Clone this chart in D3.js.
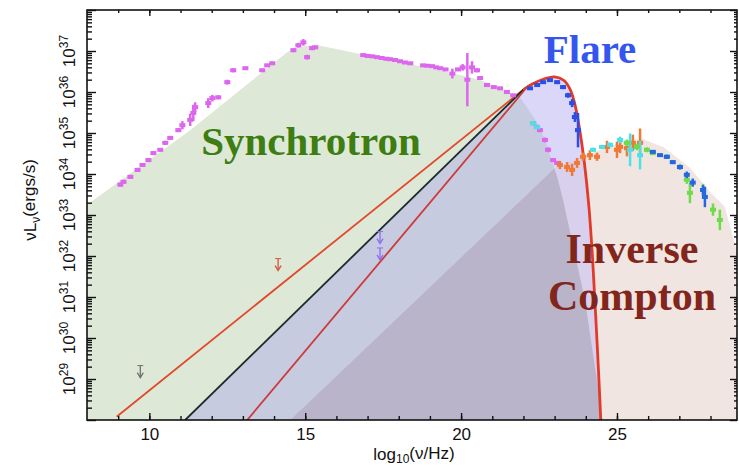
<!DOCTYPE html>
<html><head><meta charset="utf-8">
<script src="https://cdn.jsdelivr.net/npm/d3@7"></script>
<style>body{margin:0;background:#fff;} svg{display:block;}</style>
</head><body>
<svg id="chart" width="739" height="470"></svg>
<script>
// ---------- DATA (log10 nu, log10 nuLnu [, error in dex]) ----------
const xMajorTicks = [10, 15, 20, 25];
const xMinorTicks = [9,10,11,12,13,14,15,16,17,18,19,20,21,22,23,24,25,26,27,28];
const yTickExps = [29, 30, 31, 32, 33, 34, 35, 36, 37];

const synchrotronEnvelope = [[8.0,33.25],[11.31,35.07],[14.42,36.97],[14.7,37.07],[15.0,37.12],[15.4,37.14],[19.33,36.53],[20.61,36.29],[21.89,35.87],[22.4,35.3],[22.69,34.83],[23.08,33.93],[23.27,33.37],[23.97,30.94],[24.55,28.0]];
const inverseComptonEnvelope = [[14.52,28.0],[23.01,34.15],[24.46,34.59],[25.2,34.8],[25.8,34.86],[26.5,34.65],[27.34,34.15],[28.0,33.55],[28.46,33.2],[28.85,32.1]];
const flareBlackLine = [[11.15,28.0],[22.0,36.06]];
const flareUpperLine = [[8.95,28.08],[22.0,36.06]];
const flareLowerLine = [[13.14,28.0],[22.05,36.06]];
const flareCurve = [[22.0,36.06],[22.3,36.2],[22.7,36.33],[23.0,36.37],[23.3,36.28],[23.5,36.06],[23.65,35.7],[23.8,35.1],[23.95,34.3],[24.1,33.2],[24.22,31.9],[24.32,30.5],[24.42,29.0],[24.48,28.0]];

const synchrotronPoints = [[9.07,33.74,0.05],[9.17,33.81,0.05],[9.39,33.93,0.05],[9.62,34.10,0.05],[9.78,34.22,0.04],[9.97,34.34,0.05],[10.13,34.51,0.05],[10.35,34.59,0.04],[10.51,34.76,0.05],[10.67,34.88,0.04],[10.93,35.07,0.05],[11.06,35.19,0.1],[11.31,35.32,0.15],[11.41,35.49,0.2],[11.47,35.63,0.12],[11.89,35.73,0.12],[12.02,35.85,0.08],[12.21,35.87,0.05],[12.50,36.24,0.06],[12.69,36.53,0.05],[13.08,36.58,0.04],[13.62,36.53,0.04],[13.78,36.65,0.04],[13.94,36.70,0.04],[14.62,37.02,0.05],[14.78,37.14,0.06],[14.94,37.21,0.08],[15.06,36.85,0.06],[15.22,37.07,0.05],[15.32,37.09,0.04],[16.86,36.90,0.03],[17.0,36.88,0.03],[17.15,36.87,0.03],[17.3,36.85,0.03],[17.45,36.83,0.03],[17.6,36.81,0.03],[17.72,36.80,0.03],[17.88,36.78,0.03],[18.04,36.75,0.03],[18.2,36.72,0.03],[18.37,36.70,0.03],[18.78,36.65,0.03],[18.92,36.64,0.03],[19.07,36.63,0.03],[19.2,36.6,0.03],[19.33,36.58,0.03],[19.5,36.55,0.03],[19.72,36.45,0.12],[19.9,36.55,0.04],[20.05,36.6,0.08],[20.2,36.3,0.65],[20.35,36.6,0.15],[20.51,36.53,0.05],[20.61,36.34,0.04],[20.83,36.17,0.04],[21.05,36.12,0.03],[21.25,36.09,0.03],[21.47,36.0,0.03],[21.67,35.92,0.03],[22.31,35.24,0.05],[22.43,35.15,0.05],[22.53,35.07,0.05],[22.69,34.83,0.06],[22.79,34.59,0.06],[22.95,34.34,0.05],[23.08,34.27,0.05]];
const flarePoints = [[22.21,36.09,0.03],[22.44,36.17,0.03],[22.63,36.24,0.03],[22.85,36.29,0.04],[23.08,36.24,0.04],[23.27,36.12,0.05],[23.43,35.92,0.06],[23.56,35.73,0.1],[23.65,35.39,0.12],[23.75,35.07,0.42]];
const orangePoints = [[23.17,34.22,0.1],[23.40,34.17,0.12],[23.56,34.10,0.15],[23.72,34.27,0.12],[23.91,34.42,0.1],[24.13,34.46,0.12],[24.36,34.42,0.1],[24.68,34.66,0.15],[25.0,34.59,0.2],[25.10,34.66,0.15],[25.32,34.63,0.2],[25.51,34.76,0.2],[25.74,34.76,0.35]];
const cyanPoints = [[22.31,35.24,0.04],[22.44,35.14,0.04],[24.23,34.59,0.05],[24.52,34.66,0.05],[24.78,34.71,0.06],[25.10,34.83,0.08],[25.42,34.59,0.4],[25.74,34.46,0.35]];
const greenPoints = [[25.32,34.76,0.08],[25.64,34.66,0.08],[25.96,34.59,0.06],[26.15,34.51,0.05],[26.60,34.42,0.05],[27.02,34.17,0.06],[27.24,33.86,0.1],[27.34,33.54,0.25],[27.76,33.61,0.15],[28.08,33.13,0.15],[28.30,32.88,0.25]];
const bluePoints = [[26.15,34.54,0.04],[26.38,34.46,0.04],[26.60,34.42,0.05],[26.79,34.29,0.05],[27.02,34.17,0.06],[27.24,33.98,0.08],[27.43,33.79,0.1],[27.76,33.61,0.12],[27.82,33.44,0.25]];
const radioLimits = [[9.71,29.18]];
const infraredLimits = [[14.13,31.79]];
const xrayLimits = [[17.40,32.45],[17.40,32.05]];

// ---------- LAYOUT ----------
const L = 87, R = 737, T = 10, B = 420;
const svg = d3.select('#chart');
const x = d3.scaleLinear().domain([8, 28.85]).range([L, R]);
const y = d3.scaleLog().domain([1e28, 1e38]).range([B, T]);
const yv = e => y(Math.pow(10, e));

const defs = svg.append('defs');
defs.append('clipPath').attr('id','plotClip').append('rect').attr('x',L).attr('y',T).attr('width',R-L).attr('height',B-T);

const areaGen = d3.area().x(d=>x(d[0])).y0(B).y1(d=>yv(d[1]));
const sPath = areaGen(synchrotronEnvelope);
const iPath = areaGen(inverseComptonEnvelope);
const curveGen = d3.line().x(d=>x(d[0])).y(d=>yv(d[1])).curve(d3.curveCatmullRom);
const straightGen = d3.line().x(d=>x(d[0])).y(d=>yv(d[1]));
const fc = curveGen(flareCurve);
const fPath = `M${x(flareBlackLine[0][0])},${B}L${x(flareBlackLine[1][0])},${yv(flareBlackLine[1][1])}` + fc.replace(/^M/,'L') + `L${x(flareCurve[flareCurve.length-1][0])},${B}Z`;

['S','F','I'].forEach((k,i)=>{
  defs.append('clipPath').attr('id','clip'+k).append('path').attr('d',[sPath,fPath,iPath][i]);
});

const plot = svg.append('g').attr('clip-path','url(#plotClip)');
plot.append('path').attr('d',sPath).attr('fill','#dde9d6');
plot.append('path').attr('d',iPath).attr('fill','#f1e5e2');
plot.append('path').attr('d',fPath).attr('fill','#dbd7f8');
plot.append('g').attr('clip-path','url(#clipS)').append('path').attr('d',fPath).attr('fill','#c6cbe0');
plot.append('g').attr('clip-path','url(#clipS)').append('path').attr('d',iPath).attr('fill','#dcdfcc');
plot.append('g').attr('clip-path','url(#clipF)').append('path').attr('d',iPath).attr('fill','#d9d0ee');
plot.append('g').attr('clip-path','url(#clipS)').append('g').attr('clip-path','url(#clipF)').append('path').attr('d',iPath).attr('fill','#b9b4ca');

// model lines
plot.append('path').attr('d',straightGen(flareUpperLine)).attr('stroke','#e2482c').attr('stroke-width',1.8).attr('fill','none');
plot.append('path').attr('d',straightGen(flareBlackLine)).attr('stroke','#1c2a2c').attr('stroke-width',1.8).attr('fill','none');
plot.append('path').attr('d',straightGen(flareLowerLine)).attr('stroke','#cc3a3a').attr('stroke-width',1.8).attr('fill','none');
plot.append('path').attr('d',fc).attr('stroke','#e23a2a').attr('stroke-width',2.8).attr('fill','none');

// data points
function drawPoints(data, color){
  const g = plot.append('g');
  data.forEach(d=>{
    g.append('line').attr('x1',x(d[0])).attr('x2',x(d[0])).attr('y1',yv(d[1]-d[2])).attr('y2',yv(d[1]+d[2])).attr('stroke',color).attr('stroke-width',2.5);
    g.append('rect').attr('x',x(d[0])-3).attr('y',yv(d[1])-2).attr('width',6).attr('height',4).attr('fill',color);
  });
}
drawPoints(synchrotronPoints,'#dd66ee');
drawPoints(orangePoints,'#ee7a35');
drawPoints(cyanPoints,'#4fe0e6');
drawPoints(greenPoints,'#6ddc4a');
drawPoints(bluePoints,'#2468e0');
drawPoints(flarePoints,'#2a4fe8');

function drawLimits(data,color){
  data.forEach(d=>{
    const cx = x(d[0]), cy = yv(d[1]);
    plot.append('line').attr('x1',cx).attr('x2',cx).attr('y1',cy-6).attr('y2',cy+5).attr('stroke',color).attr('stroke-width',1.3);
    plot.append('path').attr('d',`M${cx-3},${cy+1}L${cx},${cy+6}L${cx+3},${cy+1}`).attr('stroke',color).attr('stroke-width',1.3).attr('fill','none');
    plot.append('line').attr('x1',cx-3).attr('x2',cx+3).attr('y1',cy-6).attr('y2',cy-6).attr('stroke',color).attr('stroke-width',1);
  });
}
drawLimits(radioLimits,'#707070');
drawLimits(infraredLimits,'#d2543f');
drawLimits(xrayLimits,'#8e6cf2');

// labels
const serif = '"Liberation Serif","Times New Roman",serif';
svg.append('text').attr('x',311).attr('y',155).attr('text-anchor','middle').attr('fill','#3d7d12').style('font-family',serif).style('font-weight','bold').style('font-size','41px').text('Synchrotron');
svg.append('text').attr('x',590).attr('y',63).attr('text-anchor','middle').attr('fill','#3556ee').style('font-family',serif).style('font-weight','bold').style('font-size','41px').text('Flare');
svg.append('text').attr('x',632).attr('y',263).attr('text-anchor','middle').attr('fill','#82261c').style('font-family',serif).style('font-weight','bold').style('font-size','42px').text('Inverse');
svg.append('text').attr('x',632).attr('y',310).attr('text-anchor','middle').attr('fill','#82261c').style('font-family',serif).style('font-weight','bold').style('font-size','42px').text('Compton');

// axes
const sans = '"Liberation Sans",Arial,sans-serif';
const yMinor = [];
for (let n = 28; n < 38; n++) for (let k = 2; k < 10; k++) yMinor.push(k * Math.pow(10, n));
const yMajor = d3.range(28, 39).map(n => Math.pow(10, n));

function styleAxis(g){ g.select('.domain').remove(); g.selectAll('line').attr('stroke','#111').attr('stroke-width',1.4); }
svg.append('g').attr('transform',`translate(${L},0)`).call(d3.axisLeft(y).tickValues(yMinor).tickSize(-5).tickFormat('')).call(styleAxis);
svg.append('g').attr('transform',`translate(${L},0)`).call(d3.axisLeft(y).tickValues(yMajor).tickSize(-9).tickFormat('')).call(styleAxis);
svg.append('g').attr('transform',`translate(${R},0)`).call(d3.axisRight(y).tickValues(yMinor).tickSize(-3).tickFormat('')).call(styleAxis);
svg.append('g').attr('transform',`translate(${R},0)`).call(d3.axisRight(y).tickValues(yMajor).tickSize(-7).tickFormat('')).call(styleAxis);

svg.append('g').attr('transform',`translate(0,${B})`).call(d3.axisBottom(x).tickValues(xMinorTicks).tickSize(-4).tickFormat('')).call(styleAxis);
const xb = svg.append('g').attr('transform',`translate(0,${B})`).call(d3.axisBottom(x).tickValues(xMajorTicks).tickSize(-7).tickPadding(8).tickFormat(d3.format('d'))).call(styleAxis);
xb.selectAll('text').attr('fill','#111').style('font-family',sans).style('font-size','17px');
svg.append('g').attr('transform',`translate(0,${T})`).call(d3.axisTop(x).tickValues(xMinorTicks).tickSize(-3).tickFormat('')).call(styleAxis);
svg.append('g').attr('transform',`translate(0,${T})`).call(d3.axisTop(x).tickValues(xMajorTicks).tickSize(-6).tickFormat('')).call(styleAxis);

svg.append('rect').attr('x',L).attr('y',T).attr('width',R-L).attr('height',B-T).attr('fill','none').attr('stroke','#111').attr('stroke-width',1.6);

yTickExps.forEach(e=>{
  const t = svg.append('text').attr('transform',`translate(75,${yv(e)}) rotate(-90)`).attr('text-anchor','middle').attr('fill','#111').style('font-family',sans).style('font-size','17px');
  t.append('tspan').text('10');
  t.append('tspan').attr('dy','-0.55em').style('font-size','12px').text(e);
});

const yt = svg.append('text').attr('transform','translate(36,200) rotate(-90)').attr('text-anchor','middle').attr('fill','#111').style('font-family',sans).style('font-size','17px');
yt.append('tspan').text('\u03BDL');
yt.append('tspan').attr('dy','0.3em').style('font-size','12px').text('\u03BD');
yt.append('tspan').attr('dy','-0.3em').text('(ergs/s)');

const xt = svg.append('text').attr('x',414).attr('y',460).attr('text-anchor','middle').attr('fill','#111').style('font-family',sans).style('font-size','17px');
xt.append('tspan').text('log');
xt.append('tspan').attr('dy','0.25em').style('font-size','12px').text('10');
xt.append('tspan').attr('dy','-0.25em').text('(\u03BD/Hz)');
</script>
</body></html>
